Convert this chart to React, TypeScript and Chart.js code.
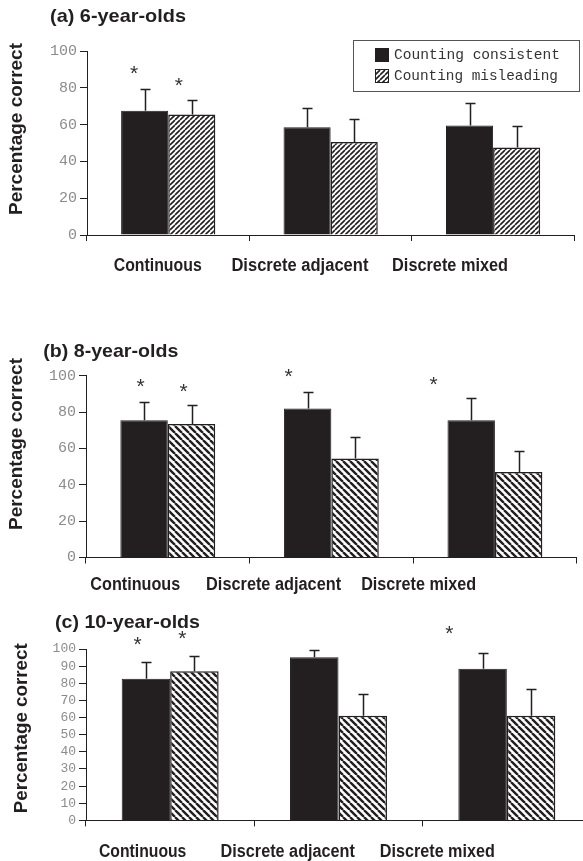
import React, { useEffect, useRef } from "react";
import { Chart, registerables } from "chart.js";
Chart.register(...registerables);

// ---------- data ----------
const categories = ["Continuous", "Discrete adjacent", "Discrete mixed"];
const seriesNames = ["Counting consistent", "Counting misleading"];

const sixConsistent = [67.5, 58.5, 59.5];
const sixConsistentErr = [12, 10.5, 12.5];
const sixMisleading = [65.5, 50.5, 47.5];
const sixMisleadingErr = [8, 12.5, 11.5];
const sixStarX = [-0.21, 0.065];
const sixStarY = [89.7, 83.2];

const eightConsistent = [75.5, 82, 75.5];
const eightConsistentErr = [10, 8.8, 12.2];
const eightMisleading = [73.5, 54.5, 47];
const eightMisleadingErr = [10.4, 12, 11.6];
const eightStarX = [-0.167, 0.096, 0.739, 1.625];
const eightStarY = [96, 93.2, 101.5, 97.1];

const tenConsistent = [82.7, 95.2, 88.5];
const tenConsistentErr = [9.7, 4.4, 9.3];
const tenMisleading = [87, 61, 61];
const tenMisleadingErr = [8.9, 12.7, 15.8];
const tenStarX = [-0.194, 0.073, 1.658];
const tenStarY = [104.7, 107.9, 111.3];

const yTicksBy20 = [0, 20, 40, 60, 80, 100];
const yTicksBy10 = [0, 10, 20, 30, 40, 50, 60, 70, 80, 90, 100];

const titles = ["(a) 6-year-olds", "(b) 8-year-olds", "(c) 10-year-olds"];
const yTitle = "Percentage correct";

// ---------- style ----------
const INK = "#231f20";
const SANS = "'Liberation Sans', Arial, sans-serif";
const MONO = "'Liberation Mono', 'Courier New', monospace";

const panels = [
  {
    top: 0, width: 583, height: 290,
    area: { left: 87, top: 51, bottom: 235, right: 574.3 },
    title: titles[0], titleBox: { x: 50, w: 136, cy: 17 },
    yLabel: { cx: 17.5, cy: 129, len: 172 },
    xLabelY: 265.7, xLabelShift: [-10.5, -30.75, -43], xLabelW: [88, 137, 116],
    tickFont: 15, yTicks: yTicksBy20,
    hatch: { dir: "/", p: 5, lw: 1.6 },
    catPct: 0.58,
    consistent: sixConsistent, consistentErr: sixConsistentErr,
    misleading: sixMisleading, misleadingErr: sixMisleadingErr,
    starX: sixStarX, starY: sixStarY,
    legend: true,
  },
  {
    top: 300, width: 583, height: 300,
    area: { left: 86, top: 75.7, bottom: 257.5, right: 576.7 },
    title: titles[1], titleBox: { x: 43.3, w: 135, cy: 52 },
    yLabel: { cx: 17.5, cy: 144, len: 172 },
    xLabelY: 285, xLabelShift: [-32.5, -57.75, -76.25], xLabelW: [90, 135, 115],
    tickFont: 15, yTicks: yTicksBy20,
    hatch: { dir: "\\", p: 7, lw: 2.4 },
    catPct: 0.58,
    consistent: eightConsistent, consistentErr: eightConsistentErr,
    misleading: eightMisleading, misleadingErr: eightMisleadingErr,
    starX: eightStarX, starY: eightStarY,
    legend: false,
  },
  {
    top: 600, width: 600, height: 261,
    area: { left: 86, top: 49, bottom: 220.4, right: 591 },
    title: titles[2], titleBox: { x: 55, w: 145, cy: 23 },
    yLabel: { cx: 22.5, cy: 128.3, len: 170 },
    xLabelY: 251.7, xLabelShift: [-27.5, -50.75, -69.5], xLabelW: [87.4, 134.3, 115],
    tickFont: 13, yTicks: yTicksBy10,
    hatch: { dir: "\\", p: 7, lw: 2.4 },
    catPct: 0.576,
    consistent: tenConsistent, consistentErr: tenConsistentErr,
    misleading: tenMisleading, misleadingErr: tenMisleadingErr,
    starX: tenStarX, starY: tenStarY,
    legend: false,
  },
];

function makeHatch(ctx: CanvasRenderingContext2D, dir: string, p: number, lw: number) {
  const c = document.createElement("canvas");
  c.width = p;
  c.height = p;
  const g = c.getContext("2d")!;
  g.fillStyle = "#ffffff";
  g.fillRect(0, 0, p, p);
  g.strokeStyle = INK;
  g.lineWidth = lw;
  g.beginPath();
  for (let k = -1; k <= 1; k++) {
    if (dir === "\\") {
      g.moveTo(k * p, 0);
      g.lineTo(k * p + p, p);
    } else {
      g.moveTo(k * p, p);
      g.lineTo(k * p + p, 0);
    }
  }
  g.stroke();
  return ctx.createPattern(c, "repeat")!;
}

function fitText(
  ctx: CanvasRenderingContext2D, text: string, cx: number, cy: number,
  width: number, font: string, color: string, rot = 0
) {
  ctx.save();
  ctx.font = font;
  ctx.fillStyle = color;
  ctx.textAlign = "center";
  ctx.textBaseline = "middle";
  const w = ctx.measureText(text).width;
  ctx.translate(cx, cy);
  if (rot) ctx.rotate(rot);
  ctx.scale(width / w, 1);
  ctx.fillText(text, 0, 0);
  ctx.restore();
}

function makeOverlay(cfg: any, pattern: CanvasPattern) {
  return {
    id: "overlay",
    afterDatasetsDraw(chart: any) {
      const ctx = chart.ctx;
      const y = chart.scales.y;
      const errs = [cfg.consistentErr, cfg.misleadingErr];
      const vals = [cfg.consistent, cfg.misleading];
      ctx.save();
      ctx.strokeStyle = INK;
      ctx.lineWidth = 1.5;
      for (let d = 0; d < 2; d++) {
        const meta = chart.getDatasetMeta(d);
        meta.data.forEach((bar: any, i: number) => {
          const x = Math.round(bar.x) + 0.5;
          const y0 = y.getPixelForValue(vals[d][i]);
          const y1 = Math.round(y.getPixelForValue(vals[d][i] + errs[d][i])) + 0.5;
          ctx.beginPath();
          ctx.moveTo(x, y0);
          ctx.lineTo(x, y1);
          ctx.moveTo(x - 5, y1);
          ctx.lineTo(x + 5, y1);
          ctx.stroke();
        });
      }
      ctx.restore();
    },
    afterDraw(chart: any) {
      const ctx = chart.ctx;
      const xs = chart.scales.x;
      const ys = chart.scales.y;
      // asterisks
      ctx.save();
      ctx.font = `21px ${SANS}`;
      ctx.fillStyle = "#333333";
      ctx.textAlign = "center";
      ctx.textBaseline = "alphabetic";
      const m = ctx.measureText("*");
      const off = (m.actualBoundingBoxAscent - m.actualBoundingBoxDescent) / 2;
      cfg.starX.forEach((sx: number, k: number) => {
        const px = xs.getPixelForValue(sx);
        const py = ys.getPixelForValue(cfg.starY[k]);
        ctx.fillText("*", px, py + off);
      });
      ctx.restore();
      // x labels
      categories.forEach((c, i) => {
        const cx = xs.getPixelForValue(i) + cfg.xLabelShift[i];
        fitText(ctx, c, cx, cfg.xLabelY, cfg.xLabelW[i], `bold 18px ${SANS}`, INK);
      });
      // title
      fitText(ctx, cfg.title, cfg.titleBox.x + cfg.titleBox.w / 2, cfg.titleBox.cy,
        cfg.titleBox.w, `bold 19px ${SANS}`, INK);
      // y title
      fitText(ctx, yTitle, cfg.yLabel.cx, cfg.yLabel.cy, cfg.yLabel.len,
        `bold 18px ${SANS}`, INK, -Math.PI / 2);
      // legend
      if (cfg.legend) {
        ctx.save();
        ctx.strokeStyle = "#555555";
        ctx.lineWidth = 1;
        ctx.strokeRect(353.5, 40.5, 226, 51);
        const ds = chart.data.datasets;
        ctx.fillStyle = INK;
        ctx.fillRect(375, 48, 14, 14);
        ctx.fillStyle = pattern;
        ctx.fillRect(375, 69, 14, 14);
        ctx.strokeStyle = INK;
        ctx.strokeRect(375.5, 69.5, 13, 13);
        ctx.restore();
        fitText(ctx, ds[0].label, 394 + 83, 55.5, 166, `15px ${MONO}`, "#333333");
        fitText(ctx, ds[1].label, 394 + 82, 76.5, 164, `15px ${MONO}`, "#333333");
      }
    },
  };
}

function Panel({ cfg }: { cfg: any }) {
  const ref = useRef<HTMLCanvasElement | null>(null);
  useEffect(() => {
    const canvas = ref.current!;
    const ctx = canvas.getContext("2d")!;
    const pattern = makeHatch(ctx, cfg.hatch.dir, cfg.hatch.p, cfg.hatch.lw);
    const a = cfg.area;
    const chart = new Chart(canvas, {
      type: "bar",
      data: {
        labels: categories,
        datasets: [
          {
            label: seriesNames[0],
            data: cfg.consistent,
            backgroundColor: INK,
            borderColor: INK,
            borderWidth: 1,
            categoryPercentage: cfg.catPct,
            barPercentage: 1,
          },
          {
            label: seriesNames[1],
            data: cfg.misleading,
            backgroundColor: pattern as any,
            borderColor: INK,
            borderWidth: 1.5,
            categoryPercentage: cfg.catPct,
            barPercentage: 1,
          },
        ],
      },
      options: {
        responsive: false,
        animation: false,
        events: [],
        layout: {
          padding: {
            left: 0,
            top: a.top,
            right: cfg.width - a.right,
            bottom: cfg.height - a.bottom - 10,
          },
        },
        plugins: {
          legend: { display: false },
          title: { display: false },
          tooltip: { enabled: false },
        },
        scales: {
          x: {
            offset: true,
            grid: { offset: true, drawOnChartArea: false, tickLength: 6, color: INK, lineWidth: 1 },
            border: { display: true, color: INK, width: 1 },
            ticks: { display: false },
            afterFit: (s: any) => { s.height = 10; },
          },
          y: {
            min: 0,
            max: 100,
            afterBuildTicks: (s: any) => { s.ticks = cfg.yTicks.map((v: number) => ({ value: v })); },
            afterFit: (s: any) => { s.width = a.left; },
            grid: { drawOnChartArea: false, tickLength: 7, color: INK, lineWidth: 1 },
            border: { display: true, color: INK, width: 1 },
            ticks: {
              autoSkip: false,
              font: { family: MONO, size: cfg.tickFont },
              color: "#8c8c8c",
              padding: 3,
            },
          },
        },
      },
      plugins: [makeOverlay(cfg, pattern)],
    } as any);
    return () => chart.destroy();
  }, []);
  return (
    <canvas
      ref={ref}
      width={cfg.width}
      height={cfg.height}
      style={{ position: "absolute", left: 0, top: cfg.top, width: cfg.width, height: cfg.height }}
    />
  );
}

export default function App() {
  return (
    <div
      style={{
        position: "absolute", left: 0, top: 0, width: 583, height: 861,
        overflow: "hidden", background: "#ffffff",
      }}
    >
      {panels.map((p, i) => (
        <Panel key={i} cfg={p} />
      ))}
    </div>
  );
}
